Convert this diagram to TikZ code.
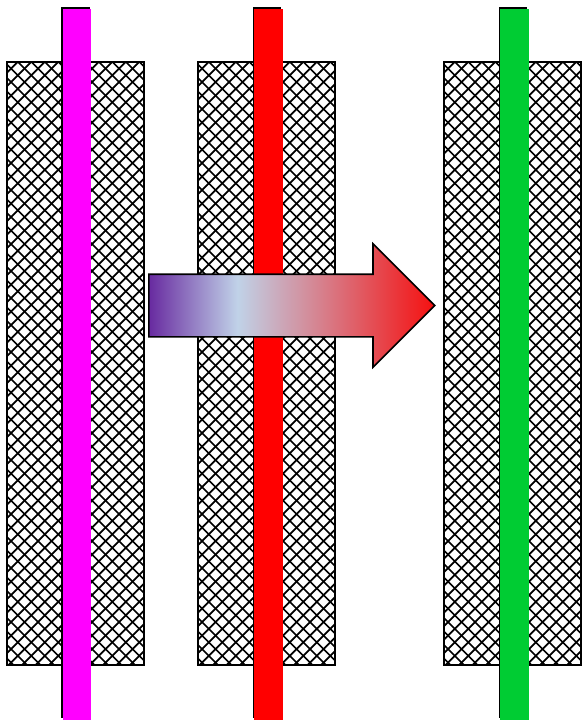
\documentclass[tikz,border=0pt]{standalone}
\usepackage{xcolor}
\usetikzlibrary{shapes.arrows,shadows}

\definecolor{barmagenta}{RGB}{255,0,255}
\definecolor{barred}{RGB}{255,0,0}
\definecolor{bargreen}{RGB}{0,204,51}
\pgfdeclarehorizontalshading{arrowshade}{100bp}{
  rgb(0bp)=(0.408,0.165,0.627); rgb(25bp)=(0.408,0.165,0.627);
  rgb(40.5bp)=(0.753,0.824,0.910);
  rgb(75bp)=(0.961,0.063,0.063); rgb(100bp)=(0.961,0.063,0.063)}

\begin{document}
\begin{tikzpicture}[x=1pt, y=-1pt,
  hatchbox/.style={inner sep=0pt, minimum width=137pt, minimum height=603pt, fill=white},
  meshline/.style={line width=1.7pt},
  bar/.style={inner sep=0pt, minimum width=28.5pt, minimum height=711pt,
    drop shadow={shadow xshift=-1.6pt, shadow yshift=1.6pt, fill=black, opacity=1}},
  movearrow/.style={single arrow, draw, line width=1.6pt, inner xsep=0pt, inner ysep=30.5pt,
    minimum height=286pt, single arrow head extend=30.5pt,
    single arrow tip angle=90, shading=arrowshade}]
  \useasboundingbox (0,0) rectangle (581,722);
  \node[hatchbox] (slabA) at (75.5,363.5) {};
  \node[hatchbox] (slabB) at (266.5,363.5) {};
  \node[hatchbox] (slabC) at (512.5,363.5) {};
  % diamond mesh in each slab
  \foreach \slab in {slabA,slabB,slabC} {
    \begin{scope}
      \clip (\slab.south west) rectangle (\slab.north east);
      \foreach \k in {-610,-596.5,...,750} {
        \draw[meshline] ([xshift=\k pt]\slab.north west) -- ++(603,603);
        \draw[meshline] ([xshift=\k pt]\slab.north west) -- ++(-603,603);
      }
    \end{scope}
    \draw[line width=1.6pt] (\slab.south west) rectangle (\slab.north east);
  }
  \node[bar, fill=barmagenta] (rodA) at (77,364.5) {};
  \node[bar, fill=barred] (rodB) at (268.5,364.5) {};
  \node[bar, fill=bargreen] (rodC) at (514.5,364.5) {};
  \node[movearrow, anchor=tail] (move) at (148,305.5) {};
\end{tikzpicture}
\end{document}
